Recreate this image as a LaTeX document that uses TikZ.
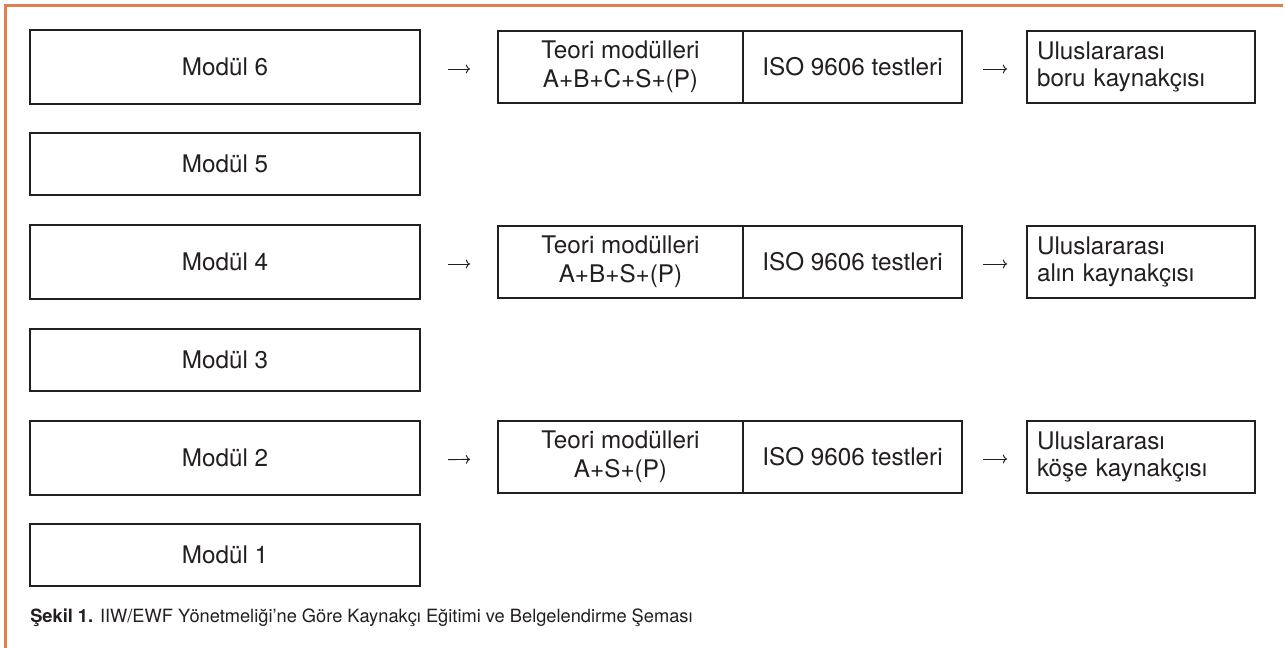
\documentclass[tikz,border=0pt]{standalone}
\usepackage{fontspec}
\setmainfont{TeX Gyre Heros}
\usetikzlibrary{arrows.meta}
\definecolor{ink}{HTML}{231F20}
\definecolor{framecol}{HTML}{E0804F}
\begin{document}
\begin{tikzpicture}[x=0.75pt,y=-0.75pt,
  box/.style={draw=ink, line width=1.5pt, inner sep=0pt, outer sep=0pt, anchor=north west, text=ink, font=\fontsize{18.2}{21.8}\selectfont},
  modbig/.style={box, minimum width=292.5pt, minimum height=55.5pt},
  modsmall/.style={box, minimum width=292.5pt, minimum height=46.5pt},
  teori/.style={box, minimum width=183.75pt, minimum height=54pt, align=center},
  iso/.style={box, minimum width=164.25pt, minimum height=54pt},
  result/.style={box, minimum width=171pt, minimum height=54pt, text width=156pt, inner xsep=7.5pt, align=left, font=\fontsize{18.2}{19.8}\selectfont},
  conn/.style={-{Computer Modern Rightarrow}, line width=0.7pt, draw=ink},
  frameline/.style={draw=framecol, line width=2.25pt}
]
\useasboundingbox[fill=white] (0,0) rectangle (1285,648);
\coordinate (fa) at (5.5,648);
\coordinate (fb) at (5.5,5.5);
\coordinate (fc) at (1283,5.5);
\draw[frameline] (fa) -- (fb) -- (fc);

\node[modbig]   (m6) at (30,30)  {Modül 6};
\node[modsmall] (m5) at (30,133) {Modül 5};
\node[modbig]   (m4) at (30,225) {Modül 4};
\node[modsmall] (m3) at (30,329) {Modül 3};
\node[modbig]   (m2) at (30,421) {Modül 2};
\node[modsmall] (m1) at (30,524) {Modül 1};

\node[teori] (t6) at (498,31) {Teori modülleri\\A+B+C+S+(P)};
\node[iso]   (i6) at (743,31) {ISO 9606 testleri};
\node[result] (r6) at (1027,31) {Uluslararası\\boru kaynakçısı};

\node[teori] (t4) at (498,226) {Teori modülleri\\A+B+S+(P)};
\node[iso]   (i4) at (743,226) {ISO 9606 testleri};
\node[result] (r4) at (1027,226) {Uluslararası\\alın kaynakçısı};

\node[teori] (t2) at (498,421) {Teori modülleri\\A+S+(P)};
\node[iso]   (i2) at (743,421) {ISO 9606 testleri};
\node[result] (r2) at (1027,421) {Uluslararası\\köşe kaynakçısı};

\foreach \r in {6,4,2}{
  \draw[conn, shorten <=21pt, shorten >=21pt] ([yshift=-1.5pt]m\r.east) -- ([yshift=-1.5pt]t\r.west);
  \draw[conn, shorten <=15.75pt, shorten >=15pt] ([yshift=-1.5pt]i\r.east) -- ([yshift=-1.5pt]r\r.west);
}

\node[anchor=base west, inner sep=0pt, text=ink, font=\fontsize{13.7}{15}\selectfont] (cap) at (30,622) {\textbf{Şekil 1.} IIW/EWF Yönetmeliği’ne Göre Kaynakçı Eğitimi ve Belgelendirme Şeması};
\end{tikzpicture}
\end{document}
